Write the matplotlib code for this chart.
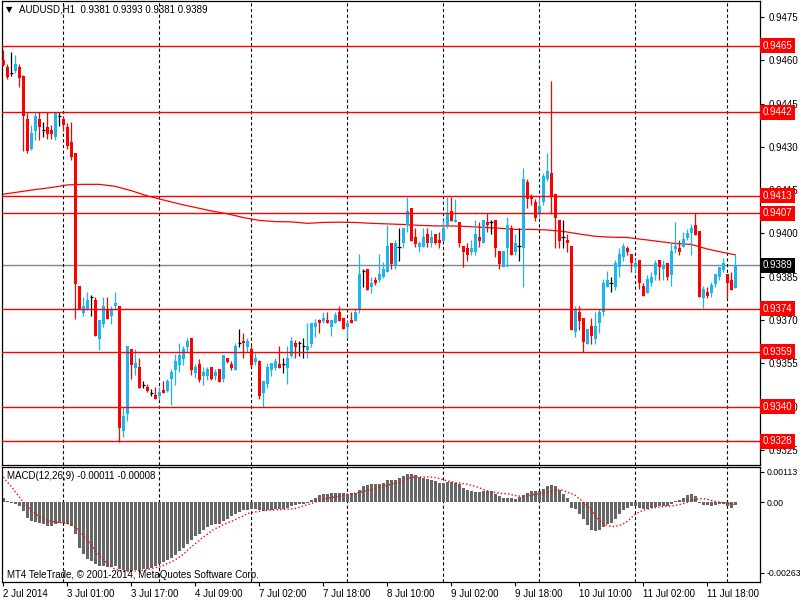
import matplotlib
matplotlib.use("Agg")
import matplotlib.pyplot as plt
import matplotlib.transforms as mtransforms
import numpy as np

plt.rcParams['font.family'] = ['Liberation Sans', 'DejaVu Sans']

# AUDUSD H1 candles (bar 0 = 2 Jul 2014 09:00)
opens = [0.94599, 0.94578, 0.94555, 0.94564, 0.94576, 0.94546, 0.94397, 0.94294, 0.94356, 0.94396,
         0.94359, 0.94368, 0.94359, 0.94335, 0.94405, 0.94396, 0.94368, 0.94317, 0.94278, 0.93818,
         0.93726, 0.93737, 0.93781, 0.93770, 0.93634, 0.93687, 0.93737, 0.93714, 0.93747, 0.93749,
         0.93317, 0.93375, 0.93599, 0.93535, 0.93539, 0.93475, 0.93467, 0.93449, 0.93441, 0.93437,
         0.93458, 0.93456, 0.93496, 0.93527, 0.93545, 0.93565, 0.93608, 0.93637, 0.93518, 0.93547,
         0.93506, 0.93506, 0.93537, 0.93506, 0.93531, 0.93496, 0.93570, 0.93547, 0.93527, 0.93620,
         0.93628, 0.93608, 0.93599, 0.93556, 0.93558, 0.93449, 0.93478, 0.93527, 0.93535, 0.93548,
         0.93548, 0.93535, 0.93577, 0.93620, 0.93620, 0.93611, 0.93597, 0.93617, 0.93677, 0.93700,
         0.93698, 0.93700, 0.93677, 0.93689, 0.93729, 0.93708, 0.93677, 0.93700, 0.93698, 0.93737,
         0.93870, 0.93877, 0.93816, 0.93839, 0.93837, 0.93848, 0.93868, 0.93966, 0.93891, 0.93954,
         0.93966, 0.94028, 0.94087, 0.93987, 0.93954, 0.93954, 0.93997, 0.93966, 0.93997, 0.93977,
         0.93975, 0.94028, 0.94078, 0.94038, 0.94041, 0.93957, 0.93951, 0.93937, 0.93937, 0.93987,
         0.93966, 0.94041, 0.94041, 0.94047, 0.93940, 0.93885, 0.93949, 0.94018, 0.93937, 0.93957,
         0.93949, 0.94177, 0.94125, 0.94108, 0.94066, 0.94108, 0.94188, 0.94209, 0.94137, 0.94047,
         0.93987, 0.93977, 0.93957, 0.93658, 0.93727, 0.93706, 0.93616, 0.93680, 0.93635, 0.93689,
         0.93727, 0.93816, 0.93828, 0.93816, 0.93885, 0.93918, 0.93949, 0.93929, 0.93885, 0.93908,
         0.93818, 0.93795, 0.93828, 0.93856, 0.93908, 0.93876, 0.93897, 0.93856, 0.93945, 0.93949,
         0.93954, 0.93983, 0.94001, 0.94030, 0.94010, 0.93776, 0.93798, 0.93793, 0.93825, 0.93848,
         0.93874, 0.93860, 0.93839, 0.93810]
highs = [0.94636, 0.94587, 0.94629, 0.94619, 0.94587, 0.94548, 0.94416, 0.94376, 0.94419, 0.94419,
         0.94387, 0.94419, 0.94376, 0.94419, 0.94419, 0.94407, 0.94382, 0.94387, 0.94278, 0.93818,
         0.93779, 0.93797, 0.93786, 0.93779, 0.93700, 0.93779, 0.93779, 0.93749, 0.93797, 0.93749,
         0.93400, 0.93610, 0.93599, 0.93599, 0.93568, 0.93489, 0.93478, 0.93460, 0.93467, 0.93467,
         0.93489, 0.93496, 0.93531, 0.93582, 0.93622, 0.93610, 0.93637, 0.93637, 0.93547, 0.93564,
         0.93537, 0.93537, 0.93537, 0.93531, 0.93531, 0.93579, 0.93570, 0.93558, 0.93622, 0.93668,
         0.93656, 0.93637, 0.93610, 0.93585, 0.93560, 0.93489, 0.93550, 0.93550, 0.93568, 0.93611,
         0.93568, 0.93611, 0.93643, 0.93631, 0.93628, 0.93639, 0.93691, 0.93691, 0.93703, 0.93703,
         0.93729, 0.93729, 0.93700, 0.93729, 0.93749, 0.93708, 0.93698, 0.93729, 0.93739, 0.93929,
         0.93877, 0.93877, 0.93848, 0.93848, 0.93929, 0.93902, 0.94030, 0.93966, 0.93977, 0.94018,
         0.94018, 0.94125, 0.94087, 0.94018, 0.93975, 0.94018, 0.94018, 0.94012, 0.93997, 0.94006,
         0.94047, 0.94125, 0.94125, 0.94120, 0.94041, 0.93957, 0.93966, 0.93977, 0.94047, 0.94041,
         0.94047, 0.94072, 0.94047, 0.94047, 0.93940, 0.93940, 0.94058, 0.94030, 0.93997, 0.94018,
         0.94226, 0.94188, 0.94137, 0.94120, 0.94125, 0.94211, 0.94278, 0.94528, 0.94137, 0.94047,
         0.94047, 0.93997, 0.93957, 0.93749, 0.93749, 0.93706, 0.93669, 0.93706, 0.93727, 0.93737,
         0.93842, 0.93870, 0.93850, 0.93908, 0.93949, 0.93966, 0.93957, 0.93929, 0.93911, 0.93908,
         0.93828, 0.93856, 0.93868, 0.93908, 0.93908, 0.93908, 0.93897, 0.93966, 0.94041, 0.93977,
         0.94006, 0.94015, 0.94033, 0.94070, 0.94010, 0.93818, 0.93813, 0.93833, 0.93860, 0.93885,
         0.93914, 0.93860, 0.93868, 0.93930]
lows = [0.94580, 0.94536, 0.94546, 0.94555, 0.94507, 0.94287, 0.94278, 0.94289, 0.94324, 0.94324,
        0.94335, 0.94326, 0.94326, 0.94324, 0.94372, 0.94356, 0.94292, 0.94255, 0.93705, 0.93737,
        0.93714, 0.93735, 0.93714, 0.93645, 0.93597, 0.93677, 0.93703, 0.93687, 0.93735, 0.93279,
        0.93296, 0.93350, 0.93496, 0.93510, 0.93466, 0.93464, 0.93452, 0.93437, 0.93427, 0.93423,
        0.93449, 0.93452, 0.93406, 0.93475, 0.93521, 0.93545, 0.93591, 0.93510, 0.93498, 0.93487,
        0.93475, 0.93493, 0.93493, 0.93493, 0.93487, 0.93487, 0.93550, 0.93527, 0.93527, 0.93608,
        0.93568, 0.93591, 0.93539, 0.93545, 0.93427, 0.93398, 0.93466, 0.93507, 0.93527, 0.93535,
        0.93518, 0.93478, 0.93573, 0.93568, 0.93577, 0.93568, 0.93568, 0.93608, 0.93643, 0.93654,
        0.93689, 0.93689, 0.93646, 0.93689, 0.93698, 0.93668, 0.93637, 0.93689, 0.93698, 0.93726,
        0.93816, 0.93805, 0.93795, 0.93822, 0.93832, 0.93845, 0.93868, 0.93876, 0.93876, 0.93906,
        0.93949, 0.94006, 0.93975, 0.93954, 0.93937, 0.93954, 0.93954, 0.93954, 0.93964, 0.93949,
        0.93975, 0.94018, 0.94044, 0.94038, 0.93954, 0.93885, 0.93906, 0.93926, 0.93926, 0.93954,
        0.93966, 0.94006, 0.93997, 0.93920, 0.93876, 0.93885, 0.93885, 0.93926, 0.93926, 0.93906,
        0.93816, 0.94087, 0.94099, 0.94044, 0.94058, 0.94099, 0.94180, 0.94066, 0.93949, 0.93949,
        0.93949, 0.93937, 0.93666, 0.93643, 0.93666, 0.93591, 0.93616, 0.93616, 0.93616, 0.93654,
        0.93715, 0.93816, 0.93796, 0.93805, 0.93850, 0.93906, 0.93926, 0.93868, 0.93868, 0.93807,
        0.93785, 0.93795, 0.93818, 0.93839, 0.93839, 0.93839, 0.93839, 0.93818, 0.93932, 0.93926,
        0.93954, 0.93977, 0.93926, 0.93995, 0.93781, 0.93742, 0.93776, 0.93781, 0.93813, 0.93839,
        0.93868, 0.93776, 0.93805, 0.93810]
closes = [0.94584, 0.94543, 0.94555, 0.94587, 0.94538, 0.94405, 0.94287, 0.94347, 0.94407, 0.94368,
          0.94359, 0.94345, 0.94345, 0.94419, 0.94405, 0.94375, 0.94303, 0.94264, 0.93825, 0.93737,
          0.93749, 0.93770, 0.93781, 0.93645, 0.93700, 0.93749, 0.93703, 0.93737, 0.93760, 0.93327,
          0.93368, 0.93610, 0.93545, 0.93550, 0.93466, 0.93475, 0.93456, 0.93449, 0.93427, 0.93450,
          0.93449, 0.93489, 0.93521, 0.93558, 0.93579, 0.93599, 0.93628, 0.93527, 0.93539, 0.93493,
          0.93521, 0.93531, 0.93496, 0.93521, 0.93487, 0.93579, 0.93556, 0.93533, 0.93610, 0.93620,
          0.93620, 0.93628, 0.93545, 0.93568, 0.93437, 0.93489, 0.93539, 0.93550, 0.93558, 0.93535,
          0.93548, 0.93568, 0.93628, 0.93608, 0.93620, 0.93611, 0.93611, 0.93691, 0.93691, 0.93689,
          0.93708, 0.93689, 0.93700, 0.93718, 0.93698, 0.93668, 0.93689, 0.93689, 0.93729, 0.93860,
          0.93870, 0.93805, 0.93828, 0.93828, 0.93860, 0.93877, 0.93957, 0.93894, 0.93966, 0.93954,
          0.94018, 0.94078, 0.93975, 0.93964, 0.93966, 0.93987, 0.93966, 0.93987, 0.93966, 0.93966,
          0.94018, 0.94066, 0.94044, 0.94047, 0.93966, 0.93937, 0.93926, 0.93951, 0.93997, 0.93975,
          0.94047, 0.94028, 0.94041, 0.93949, 0.93894, 0.93940, 0.94030, 0.93926, 0.93966, 0.93957,
          0.94188, 0.94120, 0.94120, 0.94055, 0.94096, 0.94199, 0.94217, 0.94128, 0.94055, 0.93975,
          0.93987, 0.93966, 0.93666, 0.93737, 0.93698, 0.93625, 0.93669, 0.93646, 0.93680, 0.93727,
          0.93828, 0.93839, 0.93828, 0.93897, 0.93929, 0.93957, 0.93937, 0.93897, 0.93897, 0.93828,
          0.93785, 0.93841, 0.93850, 0.93897, 0.93885, 0.93888, 0.93848, 0.93940, 0.93957, 0.93934,
          0.93980, 0.94001, 0.94018, 0.93995, 0.93781, 0.93807, 0.93785, 0.93822, 0.93860, 0.93885,
          0.93899, 0.93828, 0.93805, 0.93890]

# red moving average, sampled every 4th bar
ma_bars = [0, 4, 8, 12, 16, 20, 24, 28, 32, 36, 40, 44, 48, 52, 56, 60, 64, 68, 72, 76,
           80, 84, 88, 92, 96, 100, 104, 108, 112, 116, 120, 124, 128, 132, 136, 140, 144,
           148, 152, 156, 160, 164, 168, 172, 176, 180, 183]
ma_vals = [0.94136, 0.94144, 0.94152, 0.94159, 0.94168, 0.94170, 0.94170, 0.94163, 0.94148,
           0.94130, 0.94116, 0.94102, 0.94090, 0.94078, 0.94068, 0.94055, 0.94045, 0.94041,
           0.94040, 0.94035, 0.94038, 0.94039, 0.94038, 0.94035, 0.94033, 0.94031, 0.94028,
           0.94026, 0.94026, 0.94024, 0.94021, 0.94018, 0.94014, 0.94014, 0.94012, 0.94007,
           0.93998, 0.93990, 0.93987, 0.93986, 0.93979, 0.93972, 0.93965, 0.93962, 0.93946,
           0.93934, 0.93926]

# MACD(12,26,9): main (histogram) and signal, in units of 1e-5
macd_main = [16, 4, -4, -6, -15, -33, -58, -71, -76, -78,
             -83, -89, -89, -83, -78, -78, -81, -89, -118, -171,
             -195, -213, -219, -232, -239, -239, -242, -242, -239, -248,
             -254, -257, -257, -254, -252, -249, -248, -244, -239, -232,
             -223, -217, -207, -196, -182, -170, -155, -143, -128, -120,
             -105, -93, -87, -83, -81, -71, -62, -53, -46, -37,
             -31, -29, -25, -25, -31, -33, -31, -29, -26, -25,
             -25, -21, -15, -12, -9, -6, -2, 9, 16, 25,
             29, 31, 33, 35, 35, 32, 31, 32, 35, 46,
             58, 62, 66, 66, 68, 71, 81, 83, 83, 89,
             95, 103, 103, 99, 93, 91, 87, 81, 77, 72,
             71, 74, 74, 72, 66, 53, 43, 40, 37, 37,
             40, 41, 40, 31, 21, 16, 16, 15, 11, 19,
             27, 33, 40, 40, 40, 50, 58, 62, 58, 46,
             31, 16, -22, -25, -43, -64, -84, -103, -109, -105,
             -93, -83, -78, -62, -46, -31, -21, -16, -16, -21,
             -27, -25, -21, -19, -16, -14, -15, -6, 4, 9,
             16, 27, 31, 21, -2, -10, -12, -15, -12, -9,
             -6, -15, -21, -11]
macd_signal = [93, 74, 58, 37, 19, 0, -16, -31, -43, -56,
               -62, -68, -72, -74, -77, -78, -81, -83, -93, -108,
               -124, -143, -161, -180, -198, -215, -229, -242, -250, -254,
               -257, -258, -258, -257, -255, -254, -252, -248, -244, -242,
               -236, -229, -223, -215, -205, -195, -180, -167, -155, -143,
               -130, -120, -108, -99, -93, -84, -78, -72, -66, -58,
               -52, -43, -40, -37, -35, -31, -31, -30, -29, -29,
               -27, -27, -26, -24, -20, -15, -10, -6, 0, 4,
               9, 15, 16, 19, 21, 25, 29, 31, 33, 35,
               40, 43, 46, 50, 53, 56, 62, 66, 71, 74,
               78, 87, 91, 93, 93, 93, 93, 93, 91, 87,
               83, 78, 76, 72, 71, 68, 66, 62, 58, 53,
               47, 41, 37, 35, 33, 31, 31, 27, 24, 22,
               22, 22, 26, 29, 31, 33, 37, 41, 43, 46,
               43, 37, 31, 25, 12, 0, -15, -31, -50, -68,
               -81, -87, -91, -91, -87, -81, -72, -58, -46, -37,
               -31, -27, -22, -21, -19, -17, -15, -15, -12, -10,
               -6, -1, 4, 9, 12, 12, 10, 6, 2, 0,
               -2, -4, -9, -8]

levels = [0.9465, 0.9442, 0.9413, 0.9407, 0.9374, 0.9359, 0.9340, 0.9328]
last_price = 0.9389
price_ticks = [0.9475, 0.9460, 0.9445, 0.9430, 0.9415, 0.9400, 0.9385, 0.9370, 0.9355, 0.9340, 0.9325]
macd_ticks = [0.00113, 0.0, -0.00263]
macd_tick_labels = ["0.00113", "0.00", "-0.00263"]
day_starts = [15, 39, 62, 86, 110, 134, 158, 181]
date_ticks = [0, 16, 32, 48, 64, 80, 96, 112, 128, 144, 160, 176]
date_labels = ["2 Jul 2014", "3 Jul 01:00", "3 Jul 17:00", "4 Jul 09:00", "7 Jul 02:00",
               "7 Jul 18:00", "8 Jul 10:00", "9 Jul 02:00", "9 Jul 18:00", "10 Jul 10:00",
               "11 Jul 02:00", "11 Jul 18:00"]

BLUE = "#1EB4F0"
RED = "#FF0000"

W, H = 800, 600
def px_box(l, t, r, b):
    return [l / W, 1 - b / H, (r - l) / W, (b - t) / H]

fig = plt.figure(figsize=(8, 6), dpi=100)
ax = fig.add_axes(px_box(2, 1, 760, 465))
axm = fig.add_axes(px_box(2, 467, 760, 582))

o = np.array(opens); h = np.array(highs); l = np.array(lows); c = np.array(closes)
x = np.arange(len(o))
cols = np.where(c > o, BLUE, np.where(c < o, RED, "black"))

ax.vlines(x, l, h, colors=cols, lw=0.9, zorder=3)
body = c != o
ax.bar(x[body], np.abs(c - o)[body], bottom=np.minimum(o, c)[body], width=0.72,
       color=cols[body], lw=0, zorder=3)
ax.hlines(o[~body], x[~body] - 0.45, x[~body] + 0.45, colors="black", lw=0.9, zorder=3)

ax.plot(ma_bars, ma_vals, color=RED, lw=0.9, zorder=2)

for lv in levels:
    ax.axhline(lv, color=RED, lw=1.0, zorder=4)
ax.axhline(last_price, color="#778899", lw=1.0, zorder=1)

dash = (0, (2.9, 2.2))
for d in day_starts:
    ax.axvline(d, color="black", lw=0.8, ls=dash, zorder=1)
    axm.axvline(d, color="black", lw=0.8, ls=dash, zorder=1)

ax.set_xlim(-0.33, 189.18)
ax.set_ylim(0.93198, 0.94805)
ax.set_xticks([])
ax.yaxis.tick_right()
ax.set_yticks(price_ticks)
ax.set_yticklabels(["%.4f" % t for t in price_ticks])
ax.tick_params(axis="y", direction="out", length=3, width=0.8, pad=3, labelsize=7)

tr = mtransforms.blended_transform_factory(ax.transAxes, ax.transData)
for lv in levels:
    ax.text(1.0035, lv, "%.4f" % lv, transform=tr, color="white", fontsize=7,
            ha="left", va="center", clip_on=False, zorder=6,
            bbox=dict(boxstyle="square,pad=0.25", fc=RED, ec="none"))
ax.text(1.0035, last_price, "%.4f" % last_price, transform=tr, color="white", fontsize=7,
        ha="left", va="center", clip_on=False, zorder=6,
        bbox=dict(boxstyle="square,pad=0.25", fc="black", ec="none"))

# MACD panel
scale = 1e-5
axm.bar(x, np.array(macd_main) * scale, width=0.72, color="#666666", lw=0, zorder=2)
axm.plot(x, np.array(macd_signal) * scale, color=RED, lw=1.0, ls=(0, (1, 1.6)), zorder=3)
axm.set_xlim(-0.33, 189.18)
axm.set_ylim(-0.002976, 0.001302)
axm.yaxis.tick_right()
axm.set_yticks(macd_ticks)
axm.set_yticklabels(macd_tick_labels)
axm.tick_params(axis="y", direction="out", length=3, width=0.8, pad=2, labelsize=6.3)
axm.set_xticks(date_ticks)
axm.set_xticklabels(date_labels, ha="left")
axm.tick_params(axis="x", direction="out", length=3, width=0.8, pad=2, labelsize=7)

for a in (ax, axm):
    for s in a.spines.values():
        s.set_linewidth(0.9)
        s.set_color("black")

fig.text(6 / W, 1 - 10 / H, "\u25BC", fontsize=6, ha="left", va="center",
         family=['DejaVu Sans'])
fig.text(19 / W, 1 - 10 / H, "AUDUSD,H1  0.9381 0.9393 0.9381 0.9389", fontsize=7,
         ha="left", va="center")
fig.text(7 / W, 1 - 476 / H, "MACD(12,26,9) -0.00011 -0.00008", fontsize=7,
         ha="left", va="center")
fig.text(7 / W, 1 - 575 / H, "MT4 TeleTrade, \u00a9 2001-2014, MetaQuotes Software Corp.",
         fontsize=7, ha="left", va="center")

fig.savefig("out.png", dpi=100)
